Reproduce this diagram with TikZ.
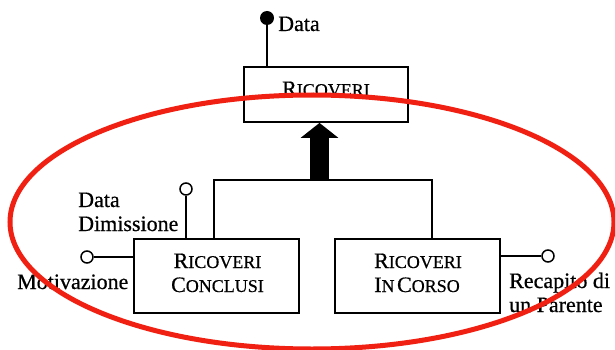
\documentclass[tikz,border=0pt]{standalone}
\usepackage{fontspec}
\setmainfont[FakeBold=0.6]{Liberation Serif}
\usetikzlibrary{arrows.meta}
\definecolor{ellred}{RGB}{240,32,18}
\newcommand\scbig[1]{{\fontsize{22}{24}\selectfont #1}}
\newcommand\scsmall[1]{{\fontsize{18}{24}\selectfont #1}}
\begin{document}
\begin{tikzpicture}[x=1pt,y=-1pt,
  entity/.style={draw,line width=1.8pt,minimum width=164pt,inner sep=0pt},
  lbl/.style={font=\fontsize{22}{24}\selectfont,inner sep=0pt,anchor=base west},
  boxtext/.style={inner sep=0pt,anchor=base},
  attr/.style={circle,draw,fill=white,line width=1.5pt,minimum size=12pt,inner sep=0pt},
  keyattr/.style={circle,fill=black,minimum size=14pt,inner sep=0pt},
  link/.style={line width=1.6pt},
  ellipsering/.style={draw=ellred,line width=5pt}]
\useasboundingbox (0,0) rectangle (615,350);

% entities
\node[entity,minimum height=55pt] (top) at (326,94.5) {};
\node[entity,minimum height=74pt,minimum width=165pt] (conc) at (216.5,276) {};
\node[entity,minimum height=74pt,minimum width=165pt] (corso) at (417.5,276) {};

\node[boxtext] (toplbl) at (326,96) {\scbig{R}\scsmall{ICOVERI}};
\node[boxtext] (conc1) at (217.5,268) {\scbig{R}\scsmall{ICOVERI}};
\node[boxtext] (conc2) at (217.5,292) {\scbig{C}\scsmall{ONCLUSI}};
\node[boxtext] (corso1) at (418,268) {\scbig{R}\scsmall{ICOVERI}};
\node[boxtext] (corso2) at (417,292) {\scbig{I}\scsmall{N} \scbig{C}\scsmall{ORSO}};

% key attribute Data
\node[keyattr] (data) at (267,18) {};
\node[lbl] (datalbl) at (278,31) {Data};
\draw[link] (data) -- (data |- top.north);

% generalization
\coordinate (hl) at (214,180);
\coordinate (hr) at (432,180);
\coordinate (hm) at (319.5,180);
\draw[link] (hl |- conc.north) -- (hl) -- (hr) -- (hr |- corso.north);
\draw[line width=19pt,-{Triangle[length=15pt,width=37pt]}] (hm) -- (hm |- top.south);

% attributes
\node[attr] (ddim) at (186,189) {};
\node[lbl] (ddim1) at (78,207) {Data};
\node[lbl] (ddim2) at (78,231) {Dimissione};
\draw[link] (ddim) -- (ddim |- conc.north);

\node[attr] (mot) at (87,257) {};
\node[lbl] (motlbl) at (17,289) {Motivazione};
\draw[link] (mot) -- (mot -| conc.west);

\node[attr] (rec) at (548,256) {};
\node[lbl] (rec1) at (509,288) {Recapito di};
\node[lbl] (rec2) at (509,312) {un Parente};
\draw[link] (rec -| corso.east) -- (rec);

% red ellipse
\draw[ellipsering] (312,222) ellipse [x radius=302, y radius=127];
\end{tikzpicture}
\end{document}
